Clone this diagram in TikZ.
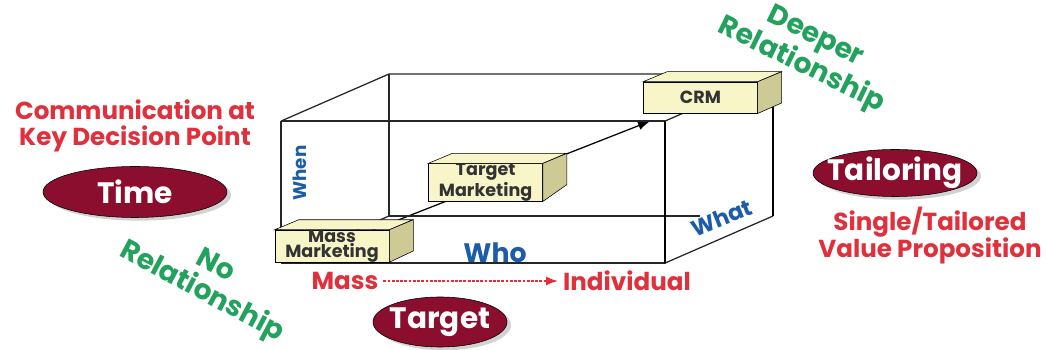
\documentclass[tikz,border=0pt]{standalone}
\usepackage{fontspec}
\setmainfont{Poppins}
\usetikzlibrary{arrows.meta,shapes.geometric,shadows,backgrounds}

\definecolor{weinrot}{RGB}{140,14,46}
\definecolor{textrot}{RGB}{224,48,60}
\definecolor{gruen}{RGB}{34,162,92}
\definecolor{blau}{RGB}{28,92,168}
\definecolor{boxgelb}{RGB}{248,246,200}
\definecolor{boxseite}{RGB}{206,202,150}

\tikzset{
	kiste/.style={draw, fill=boxgelb, minimum width=2.85cm, minimum height=0.78cm, align=center, inner sep=0pt, font=\bfseries\fontsize{12.5}{10.5}\selectfont, text=black!80},
	oval/.style={ellipse, draw=black, fill=weinrot, text=white, inner xsep=-1cm, inner ysep=0pt, font=\bfseries\fontsize{21}{21}\selectfont, drop shadow={shadow xshift=0.1cm, shadow yshift=-0.08cm, fill=black!35}},
	rottext/.style={text=textrot, font=\bfseries\fontsize{17.5}{19}\selectfont, align=center},
	gruentext/.style={text=gruen, font=\bfseries\fontsize{20}{21}\selectfont, align=center},
	achse/.style={text=blau, font=\bfseries\fontsize{16}{16}\selectfont}
}

\begin{document}
\begin{tikzpicture}
	\useasboundingbox (0,0) rectangle (26.15,8.75);
	
	% Wuerfel
	\draw[line width=0.9pt, black!85] (7.03,2.175) rectangle (16.63,5.725);
	\draw[line width=1.4pt, black!85] (7.03,2.175) -- (7.03,5.725);
	\draw[line width=0.9pt, black!85] (7.03,5.725) -- (9.725,6.9) -- (19.325,6.9);
	\draw[line width=0.9pt, black!85] (9.725,6.9) -- (9.725,3.35) -- (17.5,3.35);
	\draw[line width=0.9pt, black!85] (7.03,2.175) -- (9.725,3.35);
	\draw[line width=0.9pt, black!85] (16.63,5.725) -- (19.325,6.9);
	\draw[line width=0.9pt, black!85] (16.63,2.175) -- (19.325,3.35);
	\draw[line width=1.8pt] (16.63,2.175) -- (16.63,5.725);
	\draw[line width=1.8pt] (19.325,3.35) -- (19.325,6.9);
	
	% Kisten
	\node[kiste] (mass) at (8.3,2.6) {Mass\\Marketing};
	\node[kiste] (target) at (12.14,4.19) {Target\\Marketing};
	\node[kiste] (crm) at (17.51,6.31) {CRM};
	\foreach \n in {mass,target,crm} {
		\filldraw[fill=boxgelb] (\n.north west) -- ++(0.6,0.25) -- ++(2.85,0) -- (\n.north east) -- cycle;
		\filldraw[fill=boxseite] (\n.north east) -- ++(0.6,0.25) -- ++(0,-0.78) -- (\n.south east) -- cycle;
	}
	
	% Pfeil durch den Wuerfel
	\coordinate (spitze) at (16.25,5.72);
	\begin{scope}[on background layer]
		\draw[line width=0.9pt, -{Latex[length=3mm]}] (mass.center) -- (spitze);
	\end{scope}
	
	% Ellipsen
	\node[oval, minimum width=4.6cm, minimum height=1.275cm] (zeit) at (3.375,3.95) {Time};
	\node[oval, minimum width=4.1cm, minimum height=1.175cm] (tailoring) at (22.375,4.425) {Tailoring};
	\node[oval, minimum width=3.35cm, minimum height=1.25cm] (ziel) at (11,0.7) {Target};
	
	% Beschriftungen
	\node[rottext] (komm) at (3.375,5.6) {Communication at\\Key Decision Point};
	\node[rottext] (wert) at (23.25,2.86) {Single/Tailored\\Value Proposition};
	
	\node[rottext] (masse) at (8.625,1.725) {Mass};
	\node[rottext] (indiv) at (15.675,1.725) {Individual};
	\draw[textrot, line width=1.5pt, dash pattern=on 2pt off 1pt, -{Latex[length=3mm]}] (masse) -- (indiv);
	
	\node[achse, font=\bfseries\fontsize{19}{19}\selectfont] (wer) at (12.375,2.425) {Who};
	\node[achse, font=\bfseries\fontsize{13}{13}\selectfont, rotate=90] (wann) at (7.5,4.425) {When};
	\node[achse, rotate=22] (was) at (18.05,3.3) {What};
	
	\node[gruentext, rotate=-28] (keine) at (5.2,1.75) {No\\Relationship};
	\node[gruentext, rotate=-26] (tiefer) at (20.2,7.45) {Deeper\\Relationship};
	
\end{tikzpicture}
\end{document}
